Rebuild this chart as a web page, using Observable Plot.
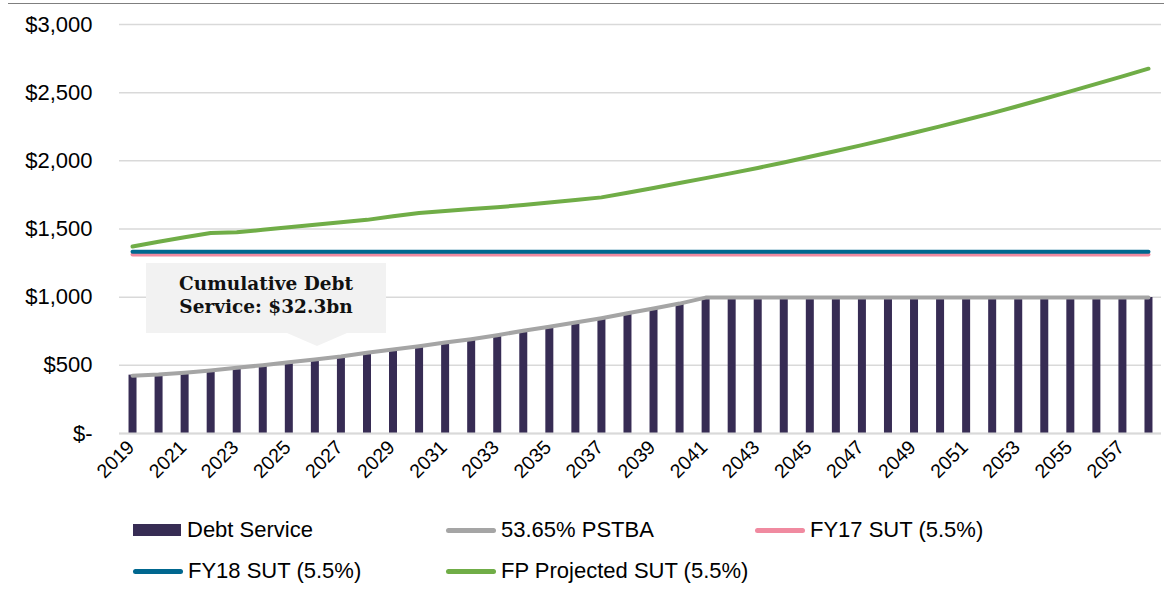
<!DOCTYPE html>
<html>
<head>
<meta charset="utf-8">
<script src="https://cdn.jsdelivr.net/npm/d3@7"></script>
<script src="https://cdn.jsdelivr.net/npm/@observablehq/plot@0.6"></script>
<style>
  html, body { margin: 0; padding: 0; background: #fff; }
  #wrap { position: relative; width: 1164px; height: 590px; overflow: hidden; font-family: "Liberation Sans", Arial, Helvetica, sans-serif; color: #000; }
  #chart { position: absolute; left: 0; top: 0; }
  .toprule { position: absolute; left: 8px; right: 0; top: 3px; height: 0; border-top: 1.5px solid #7f7f7f; }
  .callout { position: absolute; left: 146px; top: 263px; width: 240px; height: 70px; background: #f2f2f2; box-sizing: border-box; padding-top: 10px; text-align: center; font-family: "DejaVu Serif", "Liberation Serif", serif; font-weight: bold; font-size: 18.5px; line-height: 22.5px; color: #111; }
  .callout-tip { position: absolute; left: 287px; top: 333px; width: 0; height: 0; border-left: 30px solid transparent; border-right: 30px solid transparent; border-top: 13px solid #f2f2f2; }
  .lg { position: absolute; display: flex; align-items: center; height: 26px; font-size: 22px; white-space: nowrap; }
  .sw-rect { width: 48px; height: 12px; margin-right: 6px; }
  .sw-line { width: 50px; height: 5px; border-radius: 3px; margin-right: 5px; }
</style>
</head>
<body>
<div id="wrap">
  <div class="toprule"></div>
  <div id="chart"></div>
  <div class="callout">Cumulative Debt<br>Service: $32.3bn</div>
  <div class="callout-tip"></div>
  <div id="legend"></div>
</div>
<script>
// ---- data (values in $ millions) ----
const years = [2019, 2020, 2021, 2022, 2023, 2024, 2025, 2026, 2027, 2028,
               2029, 2030, 2031, 2032, 2033, 2034, 2035, 2036, 2037, 2038,
               2039, 2040, 2041, 2042, 2043, 2044, 2045, 2046, 2047, 2048,
               2049, 2050, 2051, 2052, 2053, 2054, 2055, 2056, 2057, 2058];

const debtService = [428, 432, 445, 462, 482, 501, 523, 543, 565, 592,
                     616, 640, 667, 692, 721, 753, 783, 814, 846, 882,
                     917, 953, 997, 997, 997, 997, 997, 997, 997, 997,
                     997, 997, 997, 997, 997, 997, 997, 997, 997, 997];

const pstba = [424, 432, 445, 462, 482, 501, 523, 543, 565, 592,
               616, 640, 667, 692, 721, 753, 783, 814, 846, 882,
               917, 953, 997, 997, 997, 997, 997, 997, 997, 997,
               997, 997, 997, 997, 997, 997, 997, 997, 997, 997];

const fy17Sut = [1313, 1313, 1313, 1313, 1313, 1313, 1313, 1313, 1313, 1313,
                 1313, 1313, 1313, 1313, 1313, 1313, 1313, 1313, 1313, 1313,
                 1313, 1313, 1313, 1313, 1313, 1313, 1313, 1313, 1313, 1313,
                 1313, 1313, 1313, 1313, 1313, 1313, 1313, 1313, 1313, 1313];

const fy18Sut = [1334, 1334, 1334, 1334, 1334, 1334, 1334, 1334, 1334, 1334,
                 1334, 1334, 1334, 1334, 1334, 1334, 1334, 1334, 1334, 1334,
                 1334, 1334, 1334, 1334, 1334, 1334, 1334, 1334, 1334, 1334,
                 1334, 1334, 1334, 1334, 1334, 1334, 1334, 1334, 1334, 1334];

const fpProjectedSut = [1371, 1406, 1440, 1471, 1476, 1494, 1512, 1531, 1549, 1567,
                        1593, 1617, 1632, 1646, 1659, 1676, 1694, 1712, 1732, 1766,
                        1801, 1837, 1873, 1910, 1948, 1988, 2030, 2072, 2115, 2160,
                        2206, 2253, 2301, 2350, 2402, 2455, 2510, 2565, 2620, 2676];

const yTicks = [0, 500, 1000, 1500, 2000, 2500, 3000];
const xTicks = [2019, 2021, 2023, 2025, 2027, 2029, 2031, 2033, 2035, 2037,
                2039, 2041, 2043, 2045, 2047, 2049, 2051, 2053, 2055, 2057];

const series = [
  {name: "Debt Service", color: "#372c54", type: "rect"},
  {name: "53.65% PSTBA", color: "#a5a5a5", type: "line"},
  {name: "FY17 SUT (5.5%)", color: "#f08aa0", type: "line"},
  {name: "FY18 SUT (5.5%)", color: "#00678f", type: "line"},
  {name: "FP Projected SUT (5.5%)", color: "#70ad47", type: "line"}
];

// ---- table ----
const data = years.map((year, i) => ({
  year,
  debt: debtService[i],
  pstba: pstba[i],
  fy17: fy17Sut[i],
  fy18: fy18Sut[i],
  fp: fpProjectedSut[i]
}));

const fmtY = d => d === 0 ? "$-" : "$" + d3.format(",")(d);
const lineOpts = (key, color) => ({x: "year", y: key, stroke: color, strokeWidth: 4, strokeLinecap: "round", strokeLinejoin: "round"});

const chart = Plot.plot({
  width: 1164,
  height: 500,
  marginLeft: 119,
  marginRight: 3,
  marginTop: 24,
  marginBottom: 67,
  x: {domain: [2018.5, 2058.5], axis: null},
  y: {domain: [0, 3000], axis: null},
  style: {fontFamily: '"Liberation Sans", Arial, Helvetica, sans-serif', background: "transparent", color: "#000", overflow: "visible"},
  marks: [
    Plot.ruleY(yTicks, {stroke: "#d9d9d9", strokeWidth: 1.5}),
    Plot.ruleX(data, {x: "year", y1: 0, y2: "debt", stroke: series[0].color, strokeWidth: 8}),
    Plot.ruleY([0], {stroke: "#d9d9d9", strokeWidth: 2}),
    Plot.lineY(data, lineOpts("pstba", series[1].color)),
    Plot.lineY(data, lineOpts("fy17", series[2].color)),
    Plot.lineY(data, lineOpts("fy18", series[3].color)),
    Plot.lineY(data, lineOpts("fp", series[4].color)),
    Plot.text(yTicks, {y: d => d, frameAnchor: "left", dx: -27, textAnchor: "end", text: fmtY, fontSize: 22, fill: "#000"}),
    Plot.text(xTicks, {x: d => d, frameAnchor: "bottom", rotate: -45, textAnchor: "end", text: d => String(d), dx: 3, dy: 15, fontSize: 19.5, fill: "#000"})
  ]
});
document.getElementById("chart").appendChild(chart);

// ---- legend ----
const legendPos = [
  {left: 133, top: 517}, {left: 446, top: 517}, {left: 755, top: 517},
  {left: 133, top: 558}, {left: 446, top: 558}
];
const legend = document.getElementById("legend");
series.forEach((s, i) => {
  const item = document.createElement("div");
  item.className = "lg";
  item.style.left = legendPos[i].left + "px";
  item.style.top = legendPos[i].top + "px";
  const sw = document.createElement("span");
  sw.className = s.type === "rect" ? "sw-rect" : "sw-line";
  sw.style.background = s.color;
  const label = document.createElement("span");
  label.textContent = s.name;
  item.appendChild(sw);
  item.appendChild(label);
  legend.appendChild(item);
});
</script>
</body>
</html>
